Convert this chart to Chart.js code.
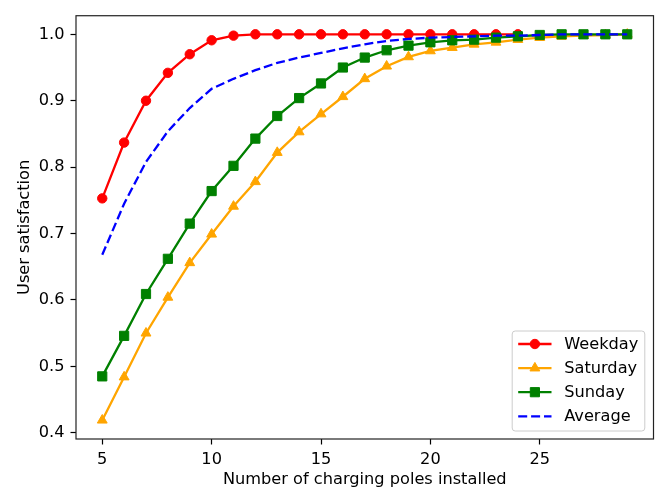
<!DOCTYPE html>
<html>
<head>
    <title>User satisfaction</title>
    <script src="https://cdn.jsdelivr.net/npm/chart.js"></script>
    <style>
        body { margin: 0; background: #fff; }
    </style>
</head>
<body>
<canvas id="satisfactionChart" width="661" height="493"></canvas>
<script>
    // number of charging poles (x values)
    const polesWeekday = [5, 6, 7, 8, 9, 10, 11, 12, 13, 14, 15, 16, 17, 18, 19, 20, 21, 22, 23, 24];
    const polesAll = [5, 6, 7, 8, 9, 10, 11, 12, 13, 14, 15, 16, 17, 18, 19, 20, 21, 22, 23, 24, 25, 26, 27, 28, 29];

    const weekday = [0.753, 0.837, 0.900, 0.942, 0.970, 0.991, 0.998, 1.0, 1.0, 1.0,
        1.0, 1.0, 1.0, 1.0, 1.0, 1.0, 1.0, 1.0, 1.0, 1.0];
    const saturday = [0.419, 0.484, 0.550, 0.604, 0.656, 0.699, 0.741, 0.778, 0.822, 0.853,
        0.880, 0.906, 0.933, 0.952, 0.966, 0.975, 0.980, 0.985, 0.988, 0.992,
        0.995, 0.997, 0.998, 0.999, 1.0];
    const sunday = [0.485, 0.546, 0.609, 0.662, 0.715, 0.764, 0.802, 0.843, 0.877, 0.904,
        0.926, 0.950, 0.965, 0.976, 0.983, 0.988, 0.991, 0.992, 0.995, 0.997,
        0.999, 1.0, 1.0, 1.0, 1.0];
    const average = [0.668, 0.745, 0.808, 0.854, 0.889, 0.918, 0.933, 0.946, 0.957, 0.965,
        0.972, 0.979, 0.985, 0.990, 0.993, 0.995, 0.996, 0.997, 0.998, 0.998,
        0.999, 1.0, 1.0, 1.0, 1.0];

    const xTicks = [5, 10, 15, 20, 25];
    const yTicks = [0.4, 0.5, 0.6, 0.7, 0.8, 0.9, 1.0];

    const FONT_SIZE = 16.2;

    function toPoints(xs, ys) {
        return xs.map((x, i) => ({x: x, y: ys[i]}));
    }

    Chart.defaults.font.family = "'DejaVu Sans', sans-serif";
    Chart.defaults.font.size = FONT_SIZE;
    Chart.defaults.color = '#000';

    // frame on all four sides, like matplotlib spines
    const framePlugin = {
        id: 'frame',
        afterDatasetsDraw(chart) {
            const a = chart.chartArea;
            const ctx = chart.ctx;
            ctx.save();
            ctx.strokeStyle = '#222';
            ctx.lineWidth = 1.2;
            ctx.strokeRect(a.left, a.top, a.right - a.left, a.bottom - a.top);
            ctx.restore();
        }
    };

    // legend box in lower right corner
    const legendPlugin = {
        id: 'mplLegend',
        afterDraw(chart) {
            const a = chart.chartArea;
            const ctx = chart.ctx;
            const w = 132.6, h = 100;
            const x0 = a.right - 8.7 - w;
            const y0 = a.bottom - 8 - h;
            ctx.save();
            ctx.beginPath();
            ctx.roundRect(x0, y0, w, h, 3);
            ctx.fillStyle = 'rgba(255,255,255,0.8)';
            ctx.fill();
            ctx.strokeStyle = '#cccccc';
            ctx.lineWidth = 1;
            ctx.stroke();
            chart.data.datasets.forEach((ds, i) => {
                const cy = y0 + 13 + i * 24.1;
                ctx.beginPath();
                ctx.setLineDash(ds.borderDash || []);
                ctx.strokeStyle = ds.borderColor;
                ctx.lineWidth = ds.borderWidth;
                ctx.moveTo(x0 + 6, cy);
                ctx.lineTo(x0 + 39.3, cy);
                ctx.stroke();
                ctx.setLineDash([]);
                if (ds.pointRadius > 0) {
                    ctx.fillStyle = ds.borderColor;
                    ctx.strokeStyle = ds.borderColor;
                    ctx.lineWidth = 1;
                    Chart.helpers.drawPoint(ctx, {
                        pointStyle: ds.pointStyle,
                        radius: ds.pointRadius,
                        rotation: 0,
                        borderWidth: 1
                    }, x0 + 22.7, cy);
                }
                ctx.fillStyle = '#000';
                ctx.font = FONT_SIZE + "px 'DejaVu Sans'";
                ctx.textBaseline = 'middle';
                ctx.textAlign = 'left';
                ctx.fillText(ds.label, x0 + 52, cy + 0.5);
            });
            ctx.restore();
        }
    };

    function lineSet(label, xs, ys, color, style, radius, order) {
        return {
            label: label,
            data: toPoints(xs, ys),
            borderColor: color,
            backgroundColor: color,
            borderWidth: 2.3,
            pointStyle: style,
            pointRadius: radius,
            pointBorderWidth: 1,
            pointBorderColor: color,
            pointBackgroundColor: color,
            tension: 0,
            fill: false,
            order: order
        };
    }

    const avgSet = lineSet('Average', polesAll, average, '#0000ff', 'circle', 0, 0);
    avgSet.borderDash = [9, 3.9];

    new Chart(document.getElementById('satisfactionChart').getContext('2d'), {
        type: 'line',
        data: {
            datasets: [
                lineSet('Weekday', polesWeekday, weekday, '#ff0000', 'circle', 4.7, 3),
                lineSet('Saturday', polesAll, saturday, '#ffa500', 'triangle', 5.7, 2),
                lineSet('Sunday', polesAll, sunday, '#008000', 'rect', 6.5, 1),
                avgSet
            ]
        },
        options: {
            responsive: false,
            animation: false,
            devicePixelRatio: 1,
            layout: {padding: {top: 7, right: 4, left: 0, bottom: 0}},
            plugins: {
                legend: {display: false},
                tooltip: {enabled: false}
            },
            scales: {
                x: {
                    type: 'linear',
                    min: 3.8,
                    max: 30.2,
                    afterBuildTicks: (axis) => { axis.ticks = xTicks.map(v => ({value: v})); },
                    afterFit: (axis) => { axis.height = 54; },
                    grid: {drawOnChartArea: false, drawTicks: true, tickLength: 5.5, color: '#000', tickWidth: 1.2},
                    border: {display: false},
                    ticks: {padding: 5.5, maxRotation: 0, callback: (v) => String(v)},
                    title: {display: true, text: 'Number of charging poles installed', padding: {top: 0, bottom: 3}}
                },
                y: {
                    min: 0.3907,
                    max: 1.028,
                    afterBuildTicks: (axis) => { axis.ticks = yTicks.map(v => ({value: v})); },
                    afterFit: (axis) => { axis.width = 76; },
                    grid: {drawOnChartArea: false, drawTicks: true, tickLength: 5.5, color: '#000', tickWidth: 1.2},
                    border: {display: false},
                    ticks: {padding: 6, callback: (v) => v.toFixed(1)},
                    title: {display: true, text: 'User satisfaction', padding: {top: 15.5, bottom: 0}}
                }
            }
        },
        plugins: [framePlugin, legendPlugin]
    });
</script>
</body>
</html>
